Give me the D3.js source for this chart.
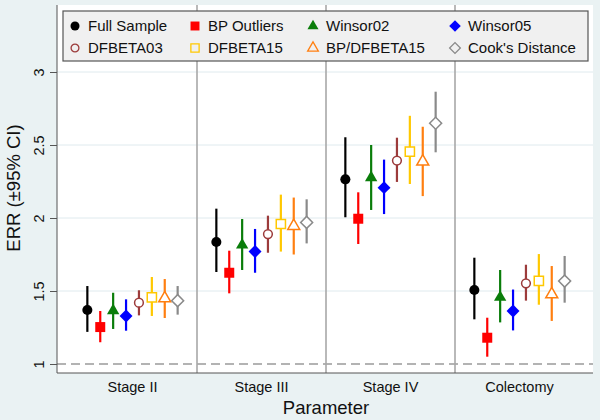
<!DOCTYPE html>
<html><head><meta charset="utf-8">
<script src="https://cdn.jsdelivr.net/npm/d3@7/dist/d3.min.js"></script>
<style>body{margin:0;background:#eaf2f3;}svg{display:block;font-family:"Liberation Sans",Arial,sans-serif;}</style>
</head><body>
<script>
const categories = ["Stage II", "Stage III", "Stage IV", "Colectomy"];
const seriesNames = ["Full Sample", "BP Outliers", "Winsor02", "Winsor05", "DFBETA03", "DFBETA15", "BP/DFBETA15", "Cook's Distance"];
// point estimates per series, in category order
const estFull    = [1.37, 1.836, 2.265, 1.507];
const estBP      = [1.253, 1.625, 1.995, 1.18];
const estW02     = [1.365, 1.815, 2.276, 1.457];
const estW05     = [1.329, 1.77, 2.208, 1.363];
const estDF03    = [1.42, 1.89, 2.393, 1.553];
const estDF15    = [1.457, 1.959, 2.454, 1.57];
const estBPDF15  = [1.45, 1.945, 2.386, 1.477];
const estCook    = [1.434, 1.97, 2.649, 1.568];
// lower CI
const loFull   = [1.22, 1.63, 2.005, 1.306];
const loBP     = [1.149, 1.484, 1.822, 1.05];
const loW02    = [1.24, 1.644, 2.055, 1.285];
const loW05    = [1.228, 1.625, 2.027, 1.23];
const loDF03   = [1.333, 1.762, 2.247, 1.434];
const loDF15   = [1.329, 1.77, 2.233, 1.406];
const loBPDF15 = [1.315, 1.75, 2.15, 1.295];
const loCook   = [1.338, 1.826, 2.45, 1.42];
// upper CI
const hiFull   = [1.534, 2.064, 2.553, 1.728];
const hiBP     = [1.363, 1.776, 2.176, 1.317];
const hiW02    = [1.488, 1.993, 2.5, 1.644];
const hiW05    = [1.443, 1.925, 2.4, 1.51];
const hiDF03   = [1.505, 2.016, 2.55, 1.68];
const hiDF15   = [1.596, 2.16, 2.70, 1.753];
const hiBPDF15 = [1.582, 2.14, 2.625, 1.671];
const hiCook   = [1.534, 2.128, 2.865, 1.74];
const yTicks = [1, 1.5, 2, 2.5, 3];

const estAll = [estFull, estBP, estW02, estW05, estDF03, estDF15, estBPDF15, estCook];
const loAll = [loFull, loBP, loW02, loW05, loDF03, loDF15, loBPDF15, loCook];
const hiAll = [hiFull, hiBP, hiW02, hiW05, hiDF03, hiDF15, hiBPDF15, hiCook];

const styles = [
  {color:"#000000", shape:d3.symbolCircle, size:80, fill:true, rot:0},
  {color:"#ff0000", shape:d3.symbolSquare, size:100, fill:true, rot:0},
  {color:"#0a7d0a", shape:d3.symbolTriangle, size:66, fill:true, rot:0},
  {color:"#0000ff", shape:d3.symbolSquare, size:84, fill:true, rot:45},
  {color:"#9c3b3b", shape:d3.symbolCircle, size:60, fill:false, rot:0},
  {color:"#ffc800", shape:d3.symbolSquare, size:85, fill:false, rot:0},
  {color:"#ff7f10", shape:d3.symbolTriangle, size:62, fill:false, rot:0},
  {color:"#8a8a8a", shape:d3.symbolSquare, size:72, fill:false, rot:45}
];

const W = 600, H = 420;
const plot = {l:57, r:593, t:5, b:373};
const svg = d3.select("body").append("svg").attr("width", W).attr("height", H);
svg.append("rect").attr("width", W).attr("height", H).attr("fill", "#eaf2f3");
svg.append("rect").attr("x", plot.l).attr("y", plot.t).attr("width", plot.r - plot.l).attr("height", plot.b - plot.t).attr("fill", "#ffffff");

const y = d3.scaleLinear().domain([1, 3]).range([364, 72]);
const x = d3.scaleBand().domain(categories).range([68, 584]).padding(0);
const xi = d3.scalePoint().domain(seriesNames).range([-45.15, 45.15]);

// gridlines
svg.append("g").selectAll("line").data(yTicks.filter(t => t > 1)).join("line")
  .attr("x1", plot.l).attr("x2", plot.r).attr("y1", d => y(d)).attr("y2", d => y(d))
  .attr("stroke", "#dfeaee").attr("stroke-width", 1);
// dashed reference at 1
svg.append("line").attr("x1", plot.l).attr("x2", plot.r).attr("y1", y(1)).attr("y2", y(1))
  .attr("stroke", "#9a9a9a").attr("stroke-width", 1.3).attr("stroke-dasharray", "9,5");
// separators
svg.append("g").selectAll("line").data(categories.slice(1)).join("line")
  .attr("x1", d => x(d)).attr("x2", d => x(d)).attr("y1", plot.t).attr("y2", plot.b)
  .attr("stroke", "#a8a8a8").attr("stroke-width", 1.6);

// y axis
const yAxis = svg.append("g").attr("transform", `translate(${plot.l},0)`)
  .call(d3.axisLeft(y).tickValues(yTicks).tickSize(7).tickPadding(5).tickFormat(d3.format("")));
yAxis.select(".domain").attr("d", `M0,${plot.t}V${plot.b}`).attr("stroke", "#555");
yAxis.selectAll(".tick line").attr("stroke", "#555");
yAxis.selectAll(".tick text").attr("font-size", 14.5).attr("fill", "#111")
  .attr("text-anchor", "middle").attr("transform", "rotate(-90)").attr("x", 0).attr("y", -13).attr("dy", "0");

// x axis
const xAxis = svg.append("g").attr("transform", `translate(0,${plot.b})`)
  .call(d3.axisBottom(x).tickSize(0).tickPadding(10));
xAxis.select(".domain").attr("d", `M${plot.l},0H${plot.r}`).attr("stroke", "#555");
xAxis.selectAll(".tick text").attr("font-size", 14.5).attr("fill", "#111").attr("dy", "0").attr("y", 18.5);

// axis titles
svg.append("text").attr("x", 326).attr("y", 414).attr("text-anchor", "middle").attr("font-size", 18.5).attr("fill", "#111").text("Parameter");
svg.append("text").attr("transform", "translate(20,188) rotate(-90)").attr("text-anchor", "middle").attr("font-size", 18.5).attr("fill", "#111").text("ERR (±95% CI)");

// error bars + markers
seriesNames.forEach((s, si) => {
  const st = styles[si];
  const g = svg.append("g");
  const rows = categories.map((c, ci) => ({c, est: estAll[si][ci], lo: loAll[si][ci], hi: hiAll[si][ci]}));
  g.selectAll("line").data(rows).join("line")
    .attr("x1", d => x(d.c) + x.bandwidth()/2 + xi(s)).attr("x2", d => x(d.c) + x.bandwidth()/2 + xi(s))
    .attr("y1", d => y(d.lo)).attr("y2", d => y(d.hi))
    .attr("stroke", st.color).attr("stroke-width", 2.2);
  g.selectAll("path").data(rows).join("path")
    .attr("d", d3.symbol().type(st.shape).size(st.size))
    .attr("transform", d => `translate(${x(d.c) + x.bandwidth()/2 + xi(s)},${y(d.est)}) rotate(${st.rot})`)
    .attr("fill", st.fill ? st.color : "#ffffff")
    .attr("stroke", st.color).attr("stroke-width", st.fill ? 0 : 1.5);
});

// legend
const leg = svg.append("g");
leg.append("rect").attr("x", 63).attr("y", 11).attr("width", 525).attr("height", 50)
  .attr("fill", "#f0f0f0").attr("stroke", "#555").attr("stroke-width", 1.2);
const colX = [75, 195, 313, 455];
const rowY = [26, 48];
seriesNames.forEach((s, si) => {
  const st = styles[si];
  const cx = colX[si % 4], cy = rowY[Math.floor(si / 4)];
  leg.append("path").attr("d", d3.symbol().type(st.shape).size(st.size * 0.8)())
    .attr("transform", `translate(${cx},${cy}) rotate(${st.rot})`)
    .attr("fill", st.fill ? st.color : "none")
    .attr("stroke", st.color).attr("stroke-width", st.fill ? 0 : 1.3);
  leg.append("text").attr("x", cx + 13).attr("y", cy).attr("dy", "0.36em")
    .attr("font-size", 15).attr("fill", "#111").text(s);
});
</script>
</body></html>
